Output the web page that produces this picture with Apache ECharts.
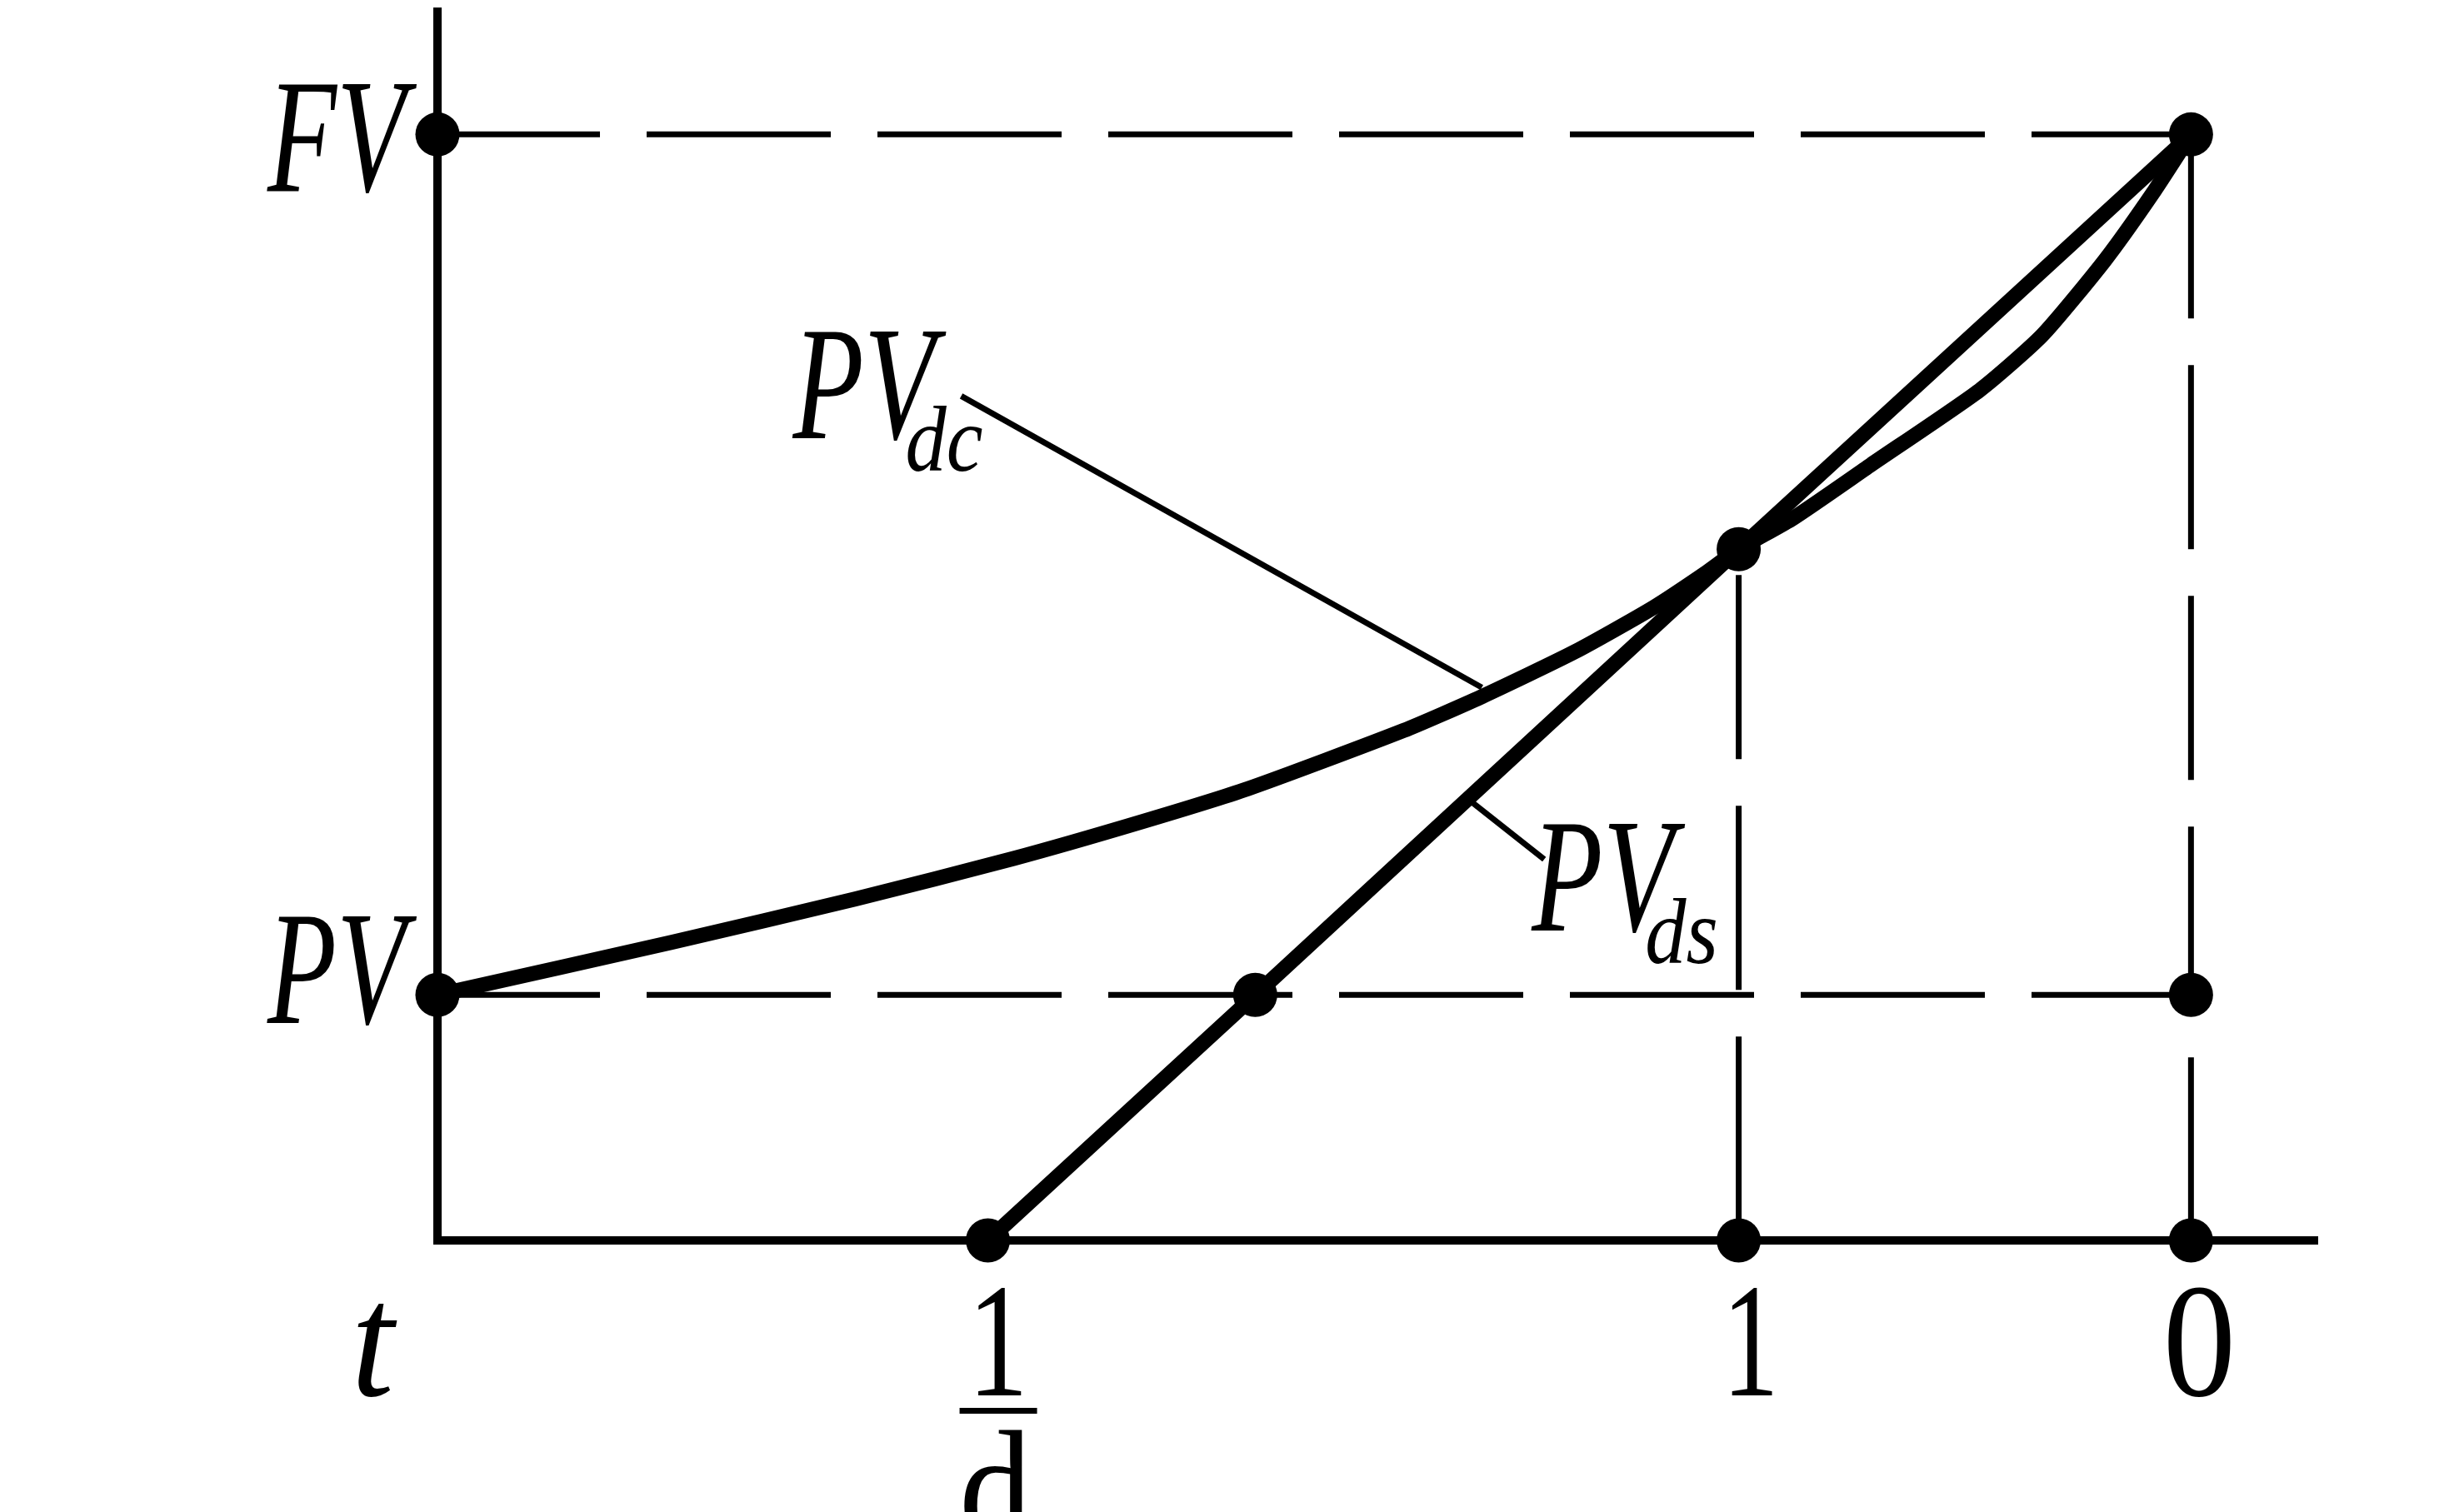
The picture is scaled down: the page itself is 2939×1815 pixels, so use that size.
<!DOCTYPE html>
<html><head><meta charset="utf-8">
<script src="https://cdn.jsdelivr.net/npm/echarts/dist/echarts.min.js"></script>
<style>html,body{margin:0;padding:0;background:#fff}#c{width:2939px;height:1815px}</style>
</head><body><div id="c"></div>
<script>
// ---------- data (t runs right-to-left: 0 at the right, t at the origin) ----------
const tOrigin = 3.877;      // value of t at the origin
const tEnd = -0.272;        // axis extends a little past t = 0
const yTop = 1.111;
const fvLevel = 1.0;        // FV
const pvLevel = 0.222;      // PV
const invD = 2.66;          // 1/d
const meetT = 1;            // t = 1
const meetY = 0.625;        // value where both curves meet

const fvDash = [[tOrigin, fvLevel], [0, fvLevel]];
const pvDash = [[tOrigin, pvLevel], [0, pvLevel]];
const vDashT0 = [[0, fvLevel], [0, 0]];
const vDashT1 = [[meetT, meetY], [meetT, 0]];

// straight line: simple discount PV_ds
const dsLine = [[invD, 0], [2.069, pvLevel], [meetT, meetY], [0, fvLevel]];

// curve: compound discount PV_dc
const dcCurve = [
  [3.877, 0.222], [3.360, 0.2695], [2.954, 0.3086], [2.603, 0.3453],
  [2.327, 0.3776], [2.085, 0.4084], [1.741, 0.4610], [1.568, 0.4917],
  [1.362, 0.5323], [1.189, 0.5721], [1.070, 0.6043], [1.000, 0.625],
  [0.879, 0.6532], [0.708, 0.7012], [0.467, 0.7688], [0.329, 0.8183],
  [0.191, 0.8859], [0.086, 0.9459], [0.000, 1.000]
];

const keyPoints = [
  [tOrigin, fvLevel], [tOrigin, pvLevel], [0, fvLevel], [0, pvLevel], [0, 0],
  [meetT, 0], [meetT, meetY], [2.069, pvLevel], [invD, 0]
];

const dcLeader = [[2.719, 0.7635], [1.568, 0.500]];
const dsLeader = [[1.588, 0.3956], [1.430, 0.3446]];

const tickTexts = { origin: 't', one: '1', zero: '0', num: '1', den: 'd' };

// ---------- chart ----------
const chart = echarts.init(document.getElementById('c'), null, { renderer: 'canvas' });
const BLACK = '#000';
const dashStyle = (off) => ({ color: BLACK, width: 7, type: [221, 56], dashOffset: off });
const lineSeries = (data, ls, z, smooth) => ({
  type: 'line', data, symbol: 'none', silent: true, animation: false, z: z || 2,
  smooth: smooth || false, lineStyle: ls
});

chart.setOption({
  animation: false,
  backgroundColor: '#fff',
  grid: { left: 525, right: 162, top: 14, bottom: 326, containLabel: false },
  xAxis: {
    type: 'value', inverse: true, min: tEnd, max: tOrigin,
    axisLine: { show: true, onZero: false, lineStyle: { color: BLACK, width: 10, cap: 'square' } },
    axisTick: { show: false }, axisLabel: { show: false }, splitLine: { show: false }
  },
  yAxis: {
    type: 'value', min: 0, max: yTop,
    axisLine: { show: true, onZero: false, lineStyle: { color: BLACK, width: 10, cap: 'square' } },
    axisTick: { show: false }, axisLabel: { show: false }, splitLine: { show: false }
  },
  series: [
    lineSeries(fvDash, dashStyle(26)),
    lineSeries(pvDash, dashStyle(26)),
    lineSeries(vDashT0, dashStyle(0)),
    lineSeries(vDashT1, dashStyle(246)),
    lineSeries(dcLeader, { color: BLACK, width: 7 }),
    lineSeries(dsLeader, { color: BLACK, width: 7 }),
    lineSeries(dsLine, { color: BLACK, width: 18 }, 3),
    lineSeries(dcCurve, { color: BLACK, width: 18, join: 'round' }, 3, 0.2),
    {
      type: 'scatter', data: keyPoints, symbol: 'circle', symbolSize: 53,
      itemStyle: { color: BLACK, opacity: 1 }, z: 5, silent: true, animation: false
    }
  ]
});

// warm up the serif font faces before the labels are drawn
const cv = document.createElement('canvas').getContext('2d');
['', 'italic '].forEach(function (s) {
  cv.font = s + '100px "Liberation Serif"'; cv.measureText('FVPt01dcs');
});

function px(p) { return chart.convertToPixel({ gridIndex: 0 }, p); }
function txt(anchor, dx, dy, text, size, italic, align, sx) {
  const a = px(anchor);
  return {
    type: 'text', x: a[0] + dx, y: a[1] + dy, scaleX: sx, scaleY: 1, z: 10, silent: true,
    style: {
      text, x: 0, y: 0, fill: BLACK,
      fontFamily: '"Liberation Serif", "Times New Roman", serif', fontSize: size,
      fontStyle: italic ? 'italic' : 'normal',
      fontWeight: 'normal', align, verticalAlign: 'middle'
    }
  };
}
const fa = [invD, 0];
const fp = px(fa);
const graphics = [
  txt([tOrigin, fvLevel], -38, 17, 'FV', 194, true, 'right', 0.7),
  txt([tOrigin, pvLevel], -38, -17, 'PV', 194, true, 'right', 0.7),
  txt([tOrigin, 0], -78, 135, tickTexts.origin, 194, true, 'center', 0.95),
  txt([meetT, 0], 14, 135, tickTexts.one, 194, false, 'center', 0.7),
  txt([0, 0], 10, 135, tickTexts.zero, 194, false, 'center', 0.9),
  txt(fa, 12, 135, tickTexts.num, 194, false, 'center', 0.75),
  { type: 'rect', z: 10, silent: true, shape: { x: fp[0] - 34, y: fp[1] + 201, width: 93, height: 7 }, style: { fill: BLACK } },
  txt(fa, 9, 312, tickTexts.den, 194, false, 'center', 0.9),
  txt(dcLeader[0], -202, 0, 'PV', 194, true, 'left', 0.72),
  txt(dcLeader[0], -67, 60, 'dc', 112, true, 'left', 0.88),
  txt(dsLeader[1], -15, 35, 'PV', 194, true, 'left', 0.72),
  txt(dsLeader[1], 121, 95, 'ds', 112, true, 'left', 0.88)
];
chart.setOption({ graphic: graphics });
</script>
</body></html>
